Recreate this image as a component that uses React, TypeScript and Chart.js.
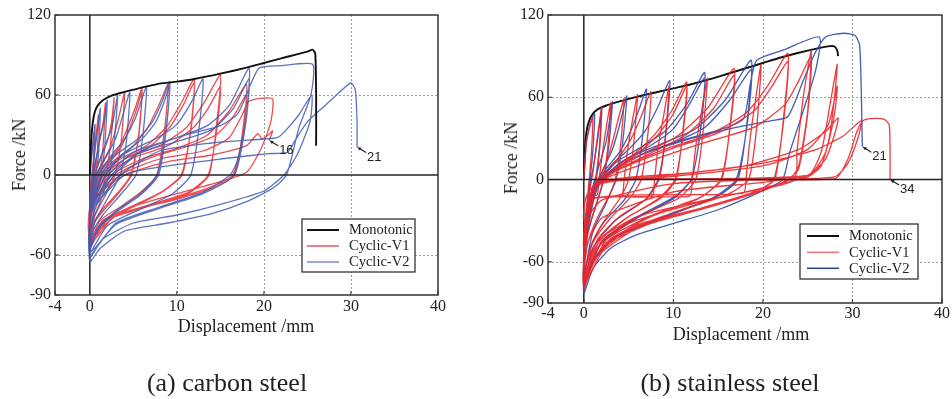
import React, { useEffect, useRef } from "react";
import { Chart, registerables } from "chart.js";
Chart.register(...registerables);

type P = [number, number];

const xTicks = [-4, 0, 10, 20, 30, 40];
const yTicks = [-90, -60, 0, 60, 120];
const gridX = [10, 20, 30];
const gridY = [-60, 60];
const seriesNames = ["Monotonic", "Cyclic-V1", "Cyclic-V2"];
const captions = ["(a) carbon steel", "(b) stainless steel"];

const carbonMonotonic: P[] = [[0,0],[0.15,25],[0.4,42],[0.8,51],[1.5,56],[2.5,59.5],[3.5,61.5],[5,64],[8,68.5],[10,70],[12,72],[15,76],[18,80.5],[20,84],[22,87.5],[25,92.5],[25.6,94],[25.9,91],[26,60],[26,22]];

const carbonV1: P[] = [[0,0],
[0.2,15],[0.5,32],[0.4,10],[0.3,0],[0.15,-10],[0,-22],
[0.1,-8],[0.3,5],[0.7,28],[1,45],[0.85,15],[0.6,0],[0.3,-15],[0,-32],
[0.1,-15],[0.4,0],[1,22],[1.5,38],[1.8,54],[1.5,20],[1.1,0],[0.6,-18],[0.2,-30],[0,-38],
[0.1,-18],[0.5,0],[1.2,12],[2,25],[2.5,40],[2.8,58],[2.4,25],[1.9,0],[1.2,-15],[0.4,-30],[0,-42],
[0.15,-20],[0.7,0],[1.5,10],[2.3,20],[3,35],[3.5,48],[4,62],[3.6,25],[2.9,0],[1.8,-15],[0.6,-30],[0,-45],
[0.2,-22],[0.9,0],[2,10],[3.3,20],[4.3,35],[5.2,50],[6,65],[5.6,30],[4.8,0],[3.5,-12],[1.8,-25],[0.5,-36],[0,-48],
[0.2,-20],[1,0],[2.2,10],[3.5,20],[4.5,34],[5.3,48],[6,62],[5.6,28],[4.7,0],[3.4,-12],[1.7,-24],[0.5,-35],[0,-46],
[0.2,-24],[1.2,0],[3,12],[5,22],[6.6,35],[7.9,52],[9,68],[8.6,35],[7.7,0],[6,-12],[3.5,-24],[1.2,-34],[0,-50],
[0.2,-25],[1.4,0],[3.5,12],[6.5,22],[8.8,36],[10.5,54],[12,72],[11.6,35],[10.6,0],[8.5,-12],[5,-24],[1.5,-35],[0,-52],
[0.2,-24],[1.6,0],[4,12],[7,22],[9.2,36],[10.7,52],[12,69],[11.6,33],[10.5,0],[8.4,-12],[5,-23],[1.5,-34],[0,-50],
[0.2,-26],[1.8,0],[4,12],[8,22],[11,35],[13.2,55],[15,75],[14.6,40],[13.7,0],[11.5,-13],[7,-23],[2,-34],[0,-54],
[0.2,-25],[2,0],[5,13],[9,22],[11.8,35],[13.6,50],[15,66],[14.6,35],[13.6,0],[11.3,-13],[7,-22],[2,-33],[0,-50],
[0.2,-25],[2.5,0],[6,12],[10,20],[13.5,30],[16,48],[18,68],[17.6,35],[16.6,0],[14,-10],[9,-20],[3,-30],[0,-52],
[0.2,-24],[3,0],[7,13],[11,21],[14.5,30],[16.5,44],[18,60],[17.6,30],[16.4,0],[13.5,-10],[8.5,-20],[3,-30],[0,-48],
[0.2,-22],[3.5,0],[8,12],[13,18],[16,28],[17.5,45],[18.2,55],[19.5,57.5],[21,57],[20.8,40],[19.7,20],[18,2],[15,-5],[10,-14],[4,-26],[0,-45],
[0.2,-20],[4,0],[9,10],[14,15],[18,22],[19.3,31],[19.8,27],[20.5,30],[21,33],[20.6,26]];

const carbonV2: P[] = [[0,0],
[0.3,20],[0.6,38],[0.5,10],[0.3,0],[0.1,-15],[0,-30],
[0.1,-15],[0.3,0],[0.8,30],[1.2,50],[1,15],[0.7,0],[0.3,-20],[0,-40],
[0.1,-18],[0.4,0],[1.2,28],[1.7,42],[2,56],[1.7,20],[1.3,0],[0.6,-22],[0,-45],
[0.1,-20],[0.6,0],[1.5,18],[2.5,35],[3.2,60],[2.8,25],[2.2,0],[1.2,-20],[0.3,-35],[0,-48],
[0.15,-22],[0.8,0],[2,15],[3,28],[3.8,45],[4.6,62],[4.2,25],[3.5,0],[2,-18],[0.6,-35],[0,-52],
[0.2,-24],[1,0],[2.5,15],[4,27],[5.2,42],[6.5,66],[6.1,30],[5.3,0],[3.5,-15],[1.5,-30],[0.4,-42],[0,-54],
[0.2,-25],[1.3,0],[3,15],[5.5,27],[7.2,40],[8.3,55],[9.2,70],[8.8,35],[7.9,0],[6,-14],[3,-28],[1,-40],[0,-56],
[0.2,-24],[1.5,0],[3.5,14],[6,27],[7.6,40],[8.5,54],[9.2,67],[8.7,32],[7.7,0],[5.8,-14],[3,-27],[1,-39],[0,-54],
[0.2,-26],[1.8,0],[4,16],[7.5,27],[10,38],[11.7,55],[13,72],[12.6,38],[11.6,0],[9.5,-14],[6,-25],[2,-38],[0,-58],
[0.2,-28],[2.2,0],[5,17],[10,28],[13.5,37],[16,52],[18.3,80],[17.9,40],[16.9,10],[16.1,0],[13,-13],[8,-24],[3,-36],[0,-60],
[0.2,-26],[2.5,0],[5.5,16],[10,25],[14,34],[16.5,50],[18.3,72],[17.9,38],[16.6,0],[13,-14],[8,-25],[3,-37],[0,-58],
[0.2,-28],[2.8,0],[6,18],[11,30],[15,37],[17,46],[18.6,70],[19.5,80.5],[22,82],[25.6,83],[25.4,60],[24,35],[22.6,0],[21,-10],[18,-20],[14,-29],[9,-36],[4,-42],[1.2,-55],[0,-65],
[0.2,-28],[3.5,0],[8,18],[14,24],[20,27],[21.5,28],[22.3,32],[24,45],[25.5,60],[25.3,40],[23.8,15],[22.3,0],[20,-12],[15,-22],[10,-30],[5,-36],[1.5,-48],[0,-62],
[0.2,-28],[4,0],[8,6],[15,12],[20.5,16],[22.7,17],[23.5,25],[25,40],[27,52],[29,64],[30,69],[30.5,64],[30.7,40],[30.7,21]];

const stainlessMonotonic: P[] = [[0,0],[0.1,20],[0.3,35],[0.6,43],[1,48],[1.5,51],[2.5,54],[4,57],[6,60.5],[8,63.5],[10,66.5],[12,69.5],[14,73],[16,77],[18,81],[20,85],[22,89],[24,92.5],[26,95.5],[27.5,97.3],[28,97],[28.3,94],[28.4,90]];

const stainlessV1: P[] = [[0,0],
[0.3,28],[0.7,40],[1,45],[0.85,20],[0.6,0],[0.3,-20],[0.1,-35],[0,-50],
[0.2,-30],[0.6,-10],[1,5],[1.5,30],[2,53],[1.8,25],[1.4,0],[1,-15],[0.4,-35],[0,-58],
[0.2,-35],[0.8,-13],[1.5,-11],[1.7,0],[2.2,25],[2.6,42],[3,56],[2.7,25],[2.2,0],[1.7,-12],[0.8,-30],[0.2,-48],[0,-62],
[0.2,-35],[1,-8],[2,5],[2.8,18],[3.5,35],[4,48],[4.5,59],[4.1,25],[3.5,0],[2.8,-12],[1.5,-28],[0.5,-45],[0,-64],
[0.2,-38],[0.9,-14],[4.2,-12],[4.5,0],[4.9,22],[5.4,42],[6,62],[5.6,28],[5,0],[4,-14],[2.5,-28],[1,-45],[0,-67],
[0.2,-38],[1,-7],[2.5,5],[4,17],[5.3,30],[6.4,46],[7.5,64],[7.1,30],[6.4,0],[5.2,-13],[3,-28],[1,-46],[0,-69],
[0.2,-40],[1,-14],[7.6,-12],[7.9,0],[8.3,24],[8.9,46],[9.5,68],[9.1,30],[8.4,0],[7,-14],[4,-27],[1.5,-44],[0,-71],
[0.2,-40],[1,-8],[3,6],[5.5,18],[7.8,32],[9.8,50],[11.5,71],[11,32],[10.3,0],[8.5,-14],[5,-27],[1.8,-44],[0,-72],
[0.2,-38],[1,-7],[3.5,7],[6,19],[8.2,32],[10,48],[11.5,68],[11,30],[10.2,0],[8.3,-14],[4.8,-28],[1.6,-46],[0,-70],
[0.2,-42],[1,-14],[11.8,-12],[12.1,0],[12.5,24],[13.1,48],[13.8,74],[13.3,34],[12.5,0],[10.5,-14],[6,-27],[2,-45],[0,-74],
[0.2,-42],[1,-8],[3.5,7],[7,20],[10.5,32],[13.8,52],[16.8,81],[16.3,38],[15.4,0],[13,-13],[8,-25],[2.5,-44],[0,-75],
[0.2,-40],[1,-6],[4,8],[8,21],[11.5,33],[14.5,52],[16.8,76],[16.3,36],[15.3,0],[12.8,-14],[7.5,-27],[2.5,-46],[0,-73],
[0.2,-44],[1,-14],[17.8,-10],[18.1,0],[18.5,26],[19.1,55],[19.8,84],[19.3,38],[18.4,0],[16,-11],[10,-24],[3,-43],[0,-77],
[0.2,-44],[1.2,-6],[4,8],[9,22],[14,33],[18,48],[20.5,68],[22.8,92],[22.3,45],[21.3,0],[19,-9],[13,-21],[6,-33],[1.5,-55],[0,-78],
[0.2,-42],[1.2,-5],[4.5,9],[10,23],[15,34],[19,50],[21,68],[22.8,86],[22.3,42],[21.2,0],[18.8,-10],[12.5,-22],[6,-35],[1.5,-56],[0,-76],
[0.2,-45],[1.2,-5],[5,0],[23.5,2],[23.8,20],[24.5,60],[25.4,94],[25,50],[24,10],[23,0],[20,-8],[14,-20],[8,-30],[3,-44],[1,-60],[0,-80],
[0.2,-43],[1.3,-4],[6,10],[13,26],[19,38],[22.5,55],[24,72],[25.4,90],[25,48],[24,8],[22.8,0],[19.5,-9],[13.5,-21],[7.5,-32],[2.5,-47],[0.8,-62],[0,-78],
[0.2,-42],[1.3,-5],[6,0],[25,3],[26.5,20],[27.5,55],[28.3,84],[28,60],[27.4,30],[26.5,10],[25,2],[20,-6],[12,-18],[5,-32],[1.5,-50],[0,-72],
[0.2,-40],[1.5,-4],[8,1],[20,10],[25,22],[27.3,40],[28.3,68],[28,48],[27,20],[25.5,5],[22,-4],[15,-13],[6,-27],[1.5,-45],[0,-65],
[0.2,-36],[1.5,-3],[8,2],[18,10],[24,22],[27,35],[28.4,45],[28.1,35],[27,15],[25,3],[20,-2],[10,-9],[2,-28],[0,-50],
[0.3,-22],[1.5,-2],[12,5],[20,12],[26,22],[29,32],[31,43],[30.6,30],[29.5,12],[28,2],[20,0],[10,-3],[2,-15],[0,-30],
[0.3,-12],[2,0],[28,0.5],[29.5,15],[30.5,35],[31.2,43],[32,44.5],[33.5,44],[34.1,40],[34.2,20],[34.2,0]];

const stainlessV2: P[] = [[0,0],
[0.3,28],[0.8,42],[1.2,48],[1,20],[0.7,0],[0.3,-25],[0,-55],
[0.2,-30],[0.6,-8],[1.1,10],[1.6,32],[2,52],[1.7,20],[1.3,0],[0.8,-18],[0.2,-42],[0,-62],
[0.2,-35],[0.8,-10],[1.6,8],[2.5,28],[3.2,57],[2.8,25],[2.2,0],[1.4,-18],[0.4,-40],[0,-66],
[0.2,-38],[1,-8],[2.2,8],[3.2,22],[4,40],[4.8,61],[4.3,25],[3.6,0],[2.5,-17],[1,-38],[0,-70],
[0.2,-40],[1,-8],[2.5,8],[4,20],[5.2,35],[6.1,50],[7,66],[6.5,28],[5.8,0],[4.5,-15],[2,-33],[0.6,-52],[0,-72],
[0.2,-42],[1.1,-8],[3,10],[5,22],[6.8,35],[8.2,52],[9.6,72],[9.1,30],[8.3,0],[6.8,-15],[3.5,-30],[1,-50],[0,-75],
[0.2,-44],[1.2,-8],[3.5,12],[6.5,24],[9.2,36],[11.5,55],[13.5,78],[13,35],[12,0],[10,-13],[6,-27],[2,-45],[0,-77],
[0.2,-42],[1.3,-6],[4,12],[7.5,25],[10,37],[11.8,55],[13.5,74],[13,34],[12,0],[10,-14],[6,-28],[2,-46],[0,-74],
[0.2,-46],[1.4,-6],[4.5,14],[9,27],[12.5,37],[15.8,58],[18.7,87],[18.2,40],[17.2,0],[15,-12],[10,-25],[4,-40],[1,-58],[0,-80],
[0.2,-45],[1.5,-5],[5,14],[10,27],[13.5,38],[16.3,58],[18.7,80],[18.2,38],[17,0],[14.5,-13],[9,-27],[3.5,-42],[1,-60],[0,-78],
[0.2,-48],[1.6,-5],[5,14],[10,27],[15,36],[17.8,44],[18.6,70],[19.3,87],[22.5,95],[26.3,104],[25.9,80],[24.5,50],[23,20],[22.2,0],[20,-8],[15,-22],[10,-32],[6,-40],[3,-50],[1,-65],[0,-83],
[0.2,-46],[1.6,-5],[5,14],[11,28],[17,38],[21,43],[22.8,46],[24.5,72],[25.8,92],[27,104],[29,106.7],[30.3,105],[30.8,98],[31,60],[31.1,24]];

const carbonMarks = [{ label: "16", x: 20.6, y: 26 }, { label: "21", x: 30.7, y: 21 }];
const stainlessMarks = [{ label: "21", x: 31.1, y: 24 }, { label: "34", x: 34.2, y: 0 }];

const SERIF = "'Liberation Serif', 'Times New Roman', serif";
const SANS = "'Liberation Sans', Arial, sans-serif";

function makePlugin(cfg: any) {
  return {
    id: "decor",
    beforeDatasetsDraw(chart: any) {
      const { ctx, chartArea: a, scales } = chart;
      const xs = scales.x, ys = scales.y;
      ctx.save();
      ctx.strokeStyle = "#9a9a9a";
      ctx.lineWidth = 1;
      ctx.setLineDash([2, 2]);
      for (const v of gridX) {
        const px = Math.round(xs.getPixelForValue(v)) + 0.5;
        ctx.beginPath(); ctx.moveTo(px, a.top); ctx.lineTo(px, a.bottom); ctx.stroke();
      }
      for (const v of gridY) {
        const py = Math.round(ys.getPixelForValue(v)) + 0.5;
        ctx.beginPath(); ctx.moveTo(a.left, py); ctx.lineTo(a.right, py); ctx.stroke();
      }
      ctx.setLineDash([]);
      ctx.strokeStyle = "#222";
      ctx.lineWidth = 1.5;
      const x0 = xs.getPixelForValue(0);
      ctx.beginPath(); ctx.moveTo(x0, a.top); ctx.lineTo(x0, a.bottom); ctx.stroke();
      ctx.restore();
    },
    afterDatasetsDraw(chart: any) {
      const { ctx, chartArea: a, scales } = chart;
      const xs = scales.x, ys = scales.y;
      ctx.save();
      ctx.strokeStyle = "#222";
      ctx.lineWidth = 1.5;
      const y0 = ys.getPixelForValue(0);
      ctx.beginPath(); ctx.moveTo(a.left, y0); ctx.lineTo(a.right, y0); ctx.stroke();
      ctx.strokeStyle = "#333";
      ctx.strokeRect(a.left, a.top, a.right - a.left, a.bottom - a.top);
      ctx.lineWidth = 1;
      for (const v of xTicks) {
        const px = xs.getPixelForValue(v);
        ctx.beginPath(); ctx.moveTo(px, a.bottom); ctx.lineTo(px, a.bottom - 4); ctx.stroke();
      }
      for (const v of yTicks) {
        const py = ys.getPixelForValue(v);
        ctx.beginPath(); ctx.moveTo(a.left, py); ctx.lineTo(a.left + 4, py); ctx.stroke();
      }
      ctx.fillStyle = "#222";
      ctx.strokeStyle = "#222";
      ctx.font = `13px ${SANS}`;
      ctx.textBaseline = "middle";
      ctx.textAlign = "left";
      for (const m of cfg.marks) {
        const tx = xs.getPixelForValue(m.x), ty = ys.getPixelForValue(m.y);
        ctx.lineWidth = 1.2;
        ctx.beginPath(); ctx.moveTo(tx + 2, ty + 1.2); ctx.lineTo(tx + 9, ty + 5.5); ctx.stroke();
        ctx.beginPath(); ctx.moveTo(tx, ty); ctx.lineTo(tx + 4.5, ty + 0.8); ctx.lineTo(tx + 2.8, ty + 3.6); ctx.closePath(); ctx.fill();
        ctx.fillText(m.label, tx + 10, ty + 10);
      }
      const L = cfg.legend;
      ctx.fillStyle = "#fff";
      ctx.fillRect(L.x, L.y, L.w, L.h);
      ctx.strokeStyle = "#333";
      ctx.lineWidth = 1.3;
      ctx.strokeRect(L.x, L.y, L.w, L.h);
      ctx.font = `14.5px ${SERIF}`;
      ctx.textBaseline = "middle";
      seriesNames.forEach((name, i) => {
        const ry = L.rows[i];
        ctx.strokeStyle = L.colors[i];
        ctx.lineWidth = L.widths[i];
        ctx.beginPath(); ctx.moveTo(L.sx1, ry); ctx.lineTo(L.sx2, ry); ctx.stroke();
        ctx.fillStyle = "#222";
        ctx.fillText(name, L.tx, ry + 0.5);
      });
      ctx.restore();
    },
  };
}

function Panel(props: any) {
  const ref = useRef<HTMLCanvasElement>(null);
  useEffect(() => {
    const ds = (label: string, pts: P[], color: string, width: number, order: number) => ({
      label,
      data: pts.map(([x, y]) => ({ x, y })),
      showLine: true,
      borderColor: color,
      backgroundColor: color,
      borderWidth: width,
      pointRadius: 0,
      pointHoverRadius: 0,
      tension: 0.2,
      order,
    });
    const tickFont = { family: SERIF, size: 16 };
    const chart = new Chart(ref.current as HTMLCanvasElement, {
      type: "scatter",
      data: {
        datasets: [
          ds(seriesNames[0], props.mono, "#111", 1.9, props.orders[0]),
          ds(seriesNames[1], props.v1, props.colors[0], 1.3, props.orders[1]),
          ds(seriesNames[2], props.v2, props.colors[1], 1.3, props.orders[2]),
        ],
      },
      options: {
        responsive: false,
        animation: false,
        events: [],
        layout: { padding: { top: 15, right: props.padRight, left: 0, bottom: 0 } },
        plugins: { legend: { display: false }, tooltip: { enabled: false } },
        scales: {
          x: {
            type: "linear",
            min: -4,
            max: 40,
            afterBuildTicks: (s: any) => { s.ticks = xTicks.map((v) => ({ value: v })); },
            afterFit: (s: any) => { s.height = props.xAxisH; },
            grid: { display: false, drawTicks: false },
            border: { display: false },
            ticks: { autoSkip: false, maxRotation: 0, padding: props.xPad, color: "#222", font: tickFont, callback: (v: any) => String(v) },
          },
          y: {
            type: "linear",
            min: -90,
            max: 120,
            afterBuildTicks: (s: any) => { s.ticks = yTicks.map((v) => ({ value: v })); },
            afterFit: (s: any) => { s.width = props.yAxisW; },
            grid: { display: false, drawTicks: false },
            border: { display: false },
            ticks: { autoSkip: false, padding: 4, color: "#222", font: tickFont, callback: (v: any) => String(v) },
          },
        },
      } as any,
      plugins: [makePlugin({ marks: props.marks, legend: props.legend })],
    });
    return () => chart.destroy();
  }, []);
  return (
    <canvas ref={ref} width={476} height={345}
      style={{ position: "absolute", left: props.left, top: 0, width: 476, height: 345 }} />
  );
}

const textBase: any = { position: "absolute", fontFamily: SERIF, color: "#222", whiteSpace: "nowrap", lineHeight: 1 };

export default function App() {
  return (
    <div style={{ position: "fixed", left: 0, top: 0, width: 952, height: 399, background: "#fff", overflow: "hidden" }}>
      <Panel left={0} mono={carbonMonotonic} v1={carbonV1} v2={carbonV2}
        colors={["rgba(232,45,50,0.85)", "rgba(60,90,180,0.85)"]} orders={[0, 2, 1]}
        padRight={38} xAxisH={50} yAxisW={55} xPad={2} marks={carbonMarks}
        legend={{ x: 302, y: 219, w: 113, h: 53, rows: [230, 246, 262], sx1: 307, sx2: 339, tx: 349,
          colors: ["#111", "#e8555a", "#7c8ccc"], widths: [2, 1.5, 1.5] }} />
      <Panel left={476} mono={stainlessMonotonic} v1={stainlessV1} v2={stainlessV2}
        colors={["rgba(235,35,40,0.9)", "rgba(45,75,170,0.9)"]} orders={[3, 1, 2]}
        padRight={10} xAxisH={42} yAxisW={72} xPad={1} marks={stainlessMarks}
        legend={{ x: 324, y: 224, w: 118, h: 55, rows: [236, 252.3, 268.3], sx1: 331, sx2: 363, tx: 373,
          colors: ["#111", "#f0707a", "#2b3f8c"], widths: [2, 1.5, 1.5] }} />
      <div style={{ ...textBase, fontSize: 18, left: 19, top: 155, transform: "translate(-50%,-50%) rotate(-90deg)" }}>Force /kN</div>
      <div style={{ ...textBase, fontSize: 18, left: 511, top: 158, transform: "translate(-50%,-50%) rotate(-90deg)" }}>Force /kN</div>
      <div style={{ ...textBase, fontSize: 18, left: 246, top: 317, transform: "translateX(-50%)" }}>Displacement /mm</div>
      <div style={{ ...textBase, fontSize: 18, left: 741, top: 325, transform: "translateX(-50%)" }}>Displacement /mm</div>
      <div style={{ ...textBase, fontSize: 26, left: 227, top: 370, transform: "translateX(-50%)" }}>{captions[0]}</div>
      <div style={{ ...textBase, fontSize: 26, left: 730, top: 370, transform: "translateX(-50%)" }}>{captions[1]}</div>
    </div>
  );
}
